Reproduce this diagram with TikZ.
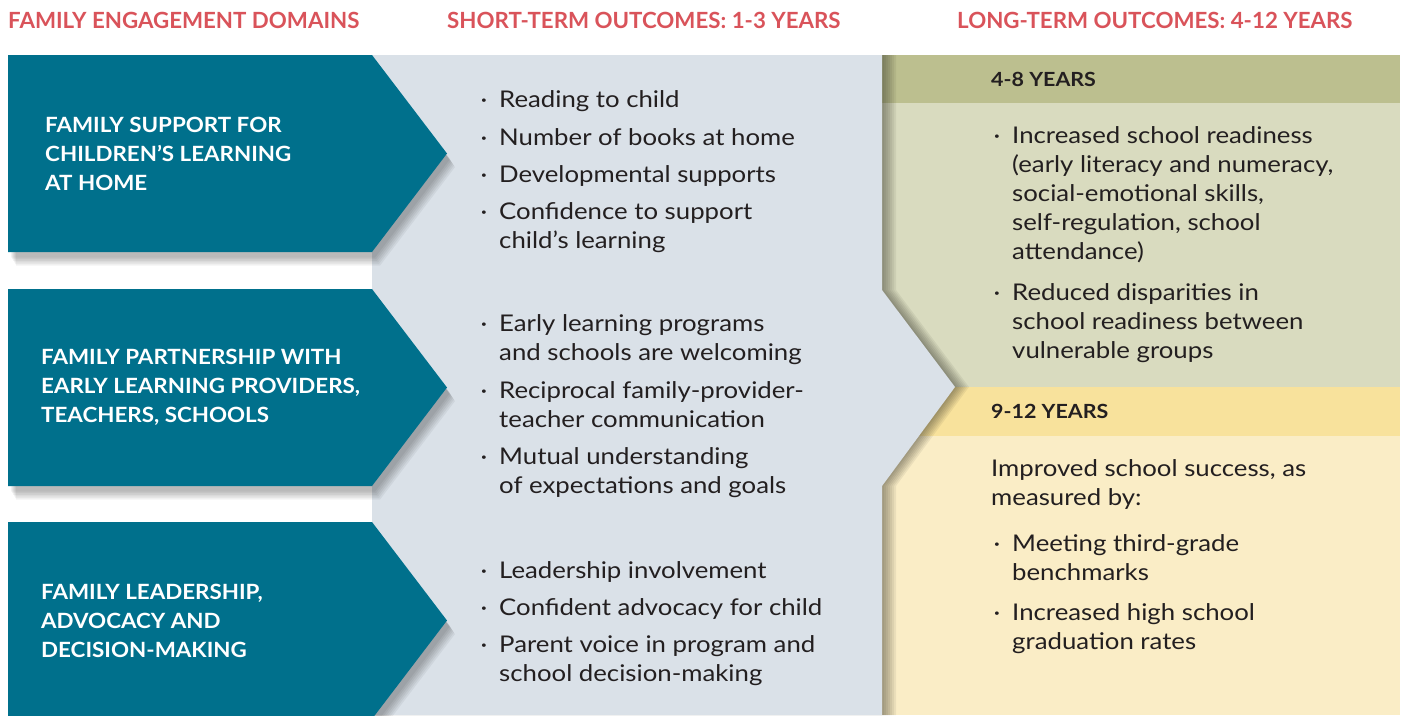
\documentclass[tikz,border=0pt]{standalone}
\usepackage{fontspec}
\setmainfont{Lato}
\newfontfamily\itemfont{Lato}[FakeStretch=1.12]
\newfontfamily\domainfont{Lato}[FakeStretch=1.065]
\newfontfamily\bandfont{Lato}[FakeStretch=1.1]
\usepackage{xcolor}
\usetikzlibrary{positioning}

\definecolor{domainblue}{HTML}{00708C}
\definecolor{panelgray}{HTML}{DAE1E8}
\definecolor{olivehead}{HTML}{BCBF8F}
\definecolor{olivebody}{HTML}{D9DBBF}
\definecolor{goldhead}{HTML}{F8E29C}
\definecolor{goldbody}{HTML}{FAEDC6}
\definecolor{titlered}{HTML}{D9535A}
\definecolor{inkblack}{HTML}{231F20}

\newcommand{\bul}{\rule{0pt}{20pt}\makebox[0pt][r]{·\hspace{12pt}}}

\tikzset{
    coltitle/.style={font=\bfseries\fontsize{22.3}{26}\selectfont, text=titlered, anchor=west, inner sep=0pt},
    domainbox/.style={font=\domainfont\bfseries\fontsize{21}{29}\selectfont, text=white, align=left, anchor=west, inner sep=0pt},
    yearband/.style={font=\bandfont\bfseries\fontsize{19.5}{22}\selectfont, text=inkblack, anchor=west, inner sep=0pt},
    outitem/.style={font=\itemfont\fontsize{23}{29}\selectfont, text=inkblack, align=left, anchor=north west, inner sep=0pt}
}

\begin{document}
\begin{tikzpicture}[x=1pt,y=-1pt]
        \useasboundingbox (0,0) rectangle (1404,715);
        % Column titles
        \node[coltitle] (tdom) at (8,20) {FAMILY ENGAGEMENT DOMAINS};
        \node[coltitle] (tshort) at (447,20) {SHORT-TERM OUTCOMES: 1-3 YEARS};
        \node[coltitle] (tlong) at (957,20) {LONG-TERM OUTCOMES: 4-12 YEARS};
        % Long-term bands
        \fill[olivehead] (882,55) rectangle (1400,103);
        \fill[olivebody] (882,103) rectangle (1400,387);
        \fill[goldhead] (882,387) rectangle (1400,436);
        \fill[goldbody] (882,436) rectangle (1400,715);
        % Short-term panel
        \foreach \s in {2,4,...,14}
            \fill[black!80!olivehead, opacity=0.07, shift={(\s,0)}] (372,55) -- (882,55) -- (882,290) -- (955,387) -- (882,486) -- (882,715) -- (372,715) -- cycle;
        \fill[panelgray] (372,55) -- (882,55) -- (882,290) -- (955,387) -- (882,486) -- (882,715) -- (372,715) -- cycle;
        % Domain arrows
        \foreach \t in {55,289,522} {
            \foreach \s in {1,...,6}
                \fill[black, opacity=0.05, shift={(2+\s,4+1.6*\s)}] (8,\t) -- (372,\t) -- (447,\t+98.5) -- (372,\t+197) -- (8,\t+197) -- cycle;
            \fill[domainblue] (8,\t) -- (372,\t) -- (447,\t+98.5) -- (372,\t+197) -- (8,\t+197) -- cycle;
        }
        \node[domainbox] (d1) at (45,154) {FAMILY SUPPORT FOR\\CHILDREN’S LEARNING\\AT HOME};
        \node[domainbox] (d2) at (41,387) {FAMILY PARTNERSHIP WITH\\EARLY LEARNING PROVIDERS,\\TEACHERS, SCHOOLS};
        \node[domainbox] (d3) at (41,621) {FAMILY LEADERSHIP,\\ADVOCACY AND\\DECISION-MAKING};
        % Short-term outcomes
        \node[outitem] (s1) at (499,87) {\bul Reading to child};
        \node[outitem] (s2) at (499,125) {\bul Number of books at home};
        \node[outitem] (s3) at (499,162) {\bul Developmental supports};
        \node[outitem] (s4) at (499,199) {\bul Confidence to support\\child’s learning};
        \node[outitem] (s5) at (499,311) {\bul Early learning programs\\and schools are welcoming};
        \node[outitem] (s6) at (499,378) {\bul Reciprocal family-provider-\\teacher communication};
        \node[outitem] (s7) at (499,444) {\bul Mutual understanding\\of expectations and goals};
        \node[outitem] (s8) at (499,558) {\bul Leadership involvement};
        \node[outitem] (s9) at (499,595) {\bul Confident advocacy for child};
        \node[outitem] (s10) at (499,632) {\bul Parent voice in program and\\school decision-making};
        % Long-term outcomes
        \node[yearband] (b1) at (991,79) {4-8 YEARS};
        \node[outitem] (l1) at (1012,123) {\bul Increased school readiness\\(early literacy and numeracy,\\social-emotional skills,\\self-regulation, school\\attendance)};
        \node[outitem] (l2) at (1012,280) {\bul Reduced disparities in\\school readiness between\\vulnerable groups};
        \node[yearband] (b2) at (991,411) {9-12 YEARS};
        \node[outitem] (l3) at (991,456) {\rule{0pt}{20pt}Improved school success, as\\measured by:};
        \node[outitem] (l4) at (1012,531) {\bul Meeting third-grade\\benchmarks};
        \node[outitem] (l5) at (1012,600) {\bul Increased high school\\graduation rates};
    \end{tikzpicture}
\end{document}
